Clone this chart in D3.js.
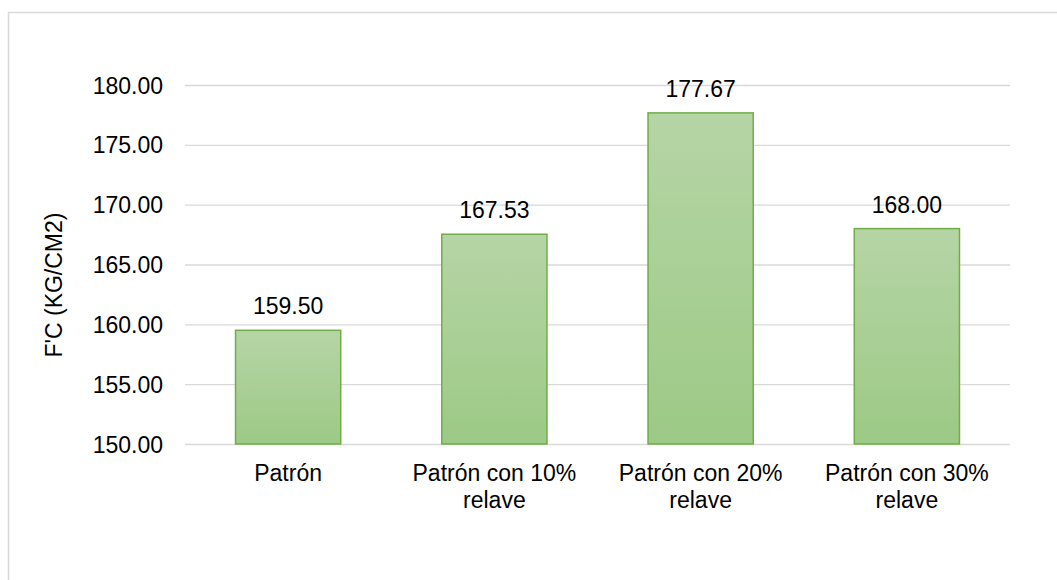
<!DOCTYPE html>
<html><head><meta charset="utf-8">
<script src="https://cdn.jsdelivr.net/npm/d3@7"></script>
<style>body{margin:0;background:#fff}text{font-family:"Liberation Sans",Arial,sans-serif}</style>
</head><body><svg id="c" width="1057" height="580"></svg>
<script>
const categories = [["Patrón"],["Patrón con 10%","relave"],["Patrón con 20%","relave"],["Patrón con 30%","relave"]];
const values = [159.50, 167.53, 177.67, 168.00];
const yTicks = [150,155,160,165,170,175,180];
const yTitle = "F'C (KG/CM2)";

const FS = 23;
const svg = d3.select("#c");
const m = {l:185, r:1010, t:85, b:444};
const x = d3.scaleBand().domain(d3.range(categories.length)).range([m.l,m.r]).paddingInner(0.49).paddingOuter(0.245);
const y = d3.scaleLinear().domain([150,180]).range([m.b,m.t]);

const defs = svg.append("defs");
const g = defs.append("linearGradient").attr("id","gr").attr("x1",0).attr("y1",0).attr("x2",0).attr("y2",1);
g.append("stop").attr("offset",0).attr("stop-color","#b6d5a6");
g.append("stop").attr("offset",1).attr("stop-color","#9cc985");

svg.append("rect").attr("x",8.5).attr("y",12.5).attr("width",1070).attr("height",600).attr("fill","none").attr("stroke","#d9d9d9").attr("stroke-width",1.5);

const ya = svg.append("g").attr("transform",`translate(${m.l},0)`)
  .call(d3.axisLeft(y).tickValues(yTicks).tickSize(-(m.r-m.l)).tickPadding(22).tickFormat(d3.format(".2f")));
ya.select(".domain").remove();
ya.selectAll("line").attr("stroke","#d9d9d9").attr("stroke-width",1.3);
ya.selectAll("text").attr("font-size",FS).attr("fill","#000").attr("dy","0.35em");

svg.selectAll(".bar").data(values).join("rect")
  .attr("x",(d,i)=>x(i)).attr("y",d=>y(d)).attr("width",x.bandwidth()).attr("height",d=>y(150)-y(d))
  .attr("fill","url(#gr)").attr("stroke","#70ad47").attr("stroke-width",1.5);

svg.selectAll(".vl").data(values).join("text")
  .attr("x",(d,i)=>x(i)+x.bandwidth()/2).attr("y",d=>y(d)-16)
  .attr("text-anchor","middle").attr("font-size",FS).attr("fill","#000").text(d=>d3.format(".2f")(d));

categories.forEach((lines,i)=>{
  lines.forEach((t,j)=>{
    svg.append("text").attr("x",x(i)+x.bandwidth()/2).attr("y",481+j*27)
      .attr("text-anchor","middle").attr("font-size",FS).attr("fill","#000").text(t);
  });
});

svg.append("text").attr("transform","translate(62,285) rotate(-90)").attr("text-anchor","middle")
  .attr("font-size",FS).attr("fill","#000").text(yTitle);
</script></body></html>
